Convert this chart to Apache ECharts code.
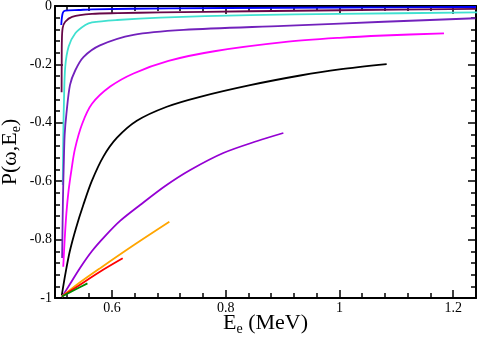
<!DOCTYPE html>
<html>
<head>
<meta charset="utf-8">
<script src="https://cdn.jsdelivr.net/npm/echarts@6/dist/echarts.min.js"></script>
<style>html,body{margin:0;padding:0;background:#fff}#c{width:484px;height:346px}</style>
</head>
<body>
<div id="c"></div>
<script>
// Tick values
var xMajor = [0.6, 0.8, 1.0, 1.2];
var xMinor = [0.52, 0.56, 0.64, 0.68, 0.72, 0.76, 0.84, 0.88, 0.92, 0.96, 1.04, 1.08, 1.12, 1.16];
var yMajor = [-1, -0.8, -0.6, -0.4, -0.2, 0];
var yMinor = [-0.96, -0.92, -0.88, -0.84, -0.76, -0.72, -0.68, -0.64, -0.56, -0.52, -0.48, -0.44,
              -0.36, -0.32, -0.28, -0.24, -0.16, -0.12, -0.08, -0.04];

// Curves [E_e, P]
var blue = [[0.511,-0.065],[0.5135,-0.025],[0.518,-0.016],[0.542,-0.0137],[0.565,-0.0114],[0.7,-0.008],[0.9,-0.006],[1.1,-0.0045],[1.24,-0.0035]];
var maroon = [[0.5116,-0.295],[0.5118,-0.2],[0.5121,-0.12],[0.5135,-0.075],[0.518,-0.054],[0.53,-0.037],[0.565,-0.027],[0.61,-0.0245],[0.685,-0.022],[0.843,-0.018],[1.0,-0.0145],[1.24,-0.010]];
var turquoise = [[0.5136,-0.613],[0.5145,-0.45],[0.5158,-0.322],[0.518,-0.208],[0.524,-0.139],[0.5357,-0.0935],[0.5533,-0.065],[0.565,-0.056],[0.609,-0.048],[0.685,-0.040],[0.843,-0.031],[1.0,-0.027],[1.242,-0.022]];
var indigo = [[0.5125,-0.863],[0.514,-0.66],[0.5153,-0.55],[0.517,-0.44],[0.52,-0.37],[0.5264,-0.27],[0.5357,-0.22],[0.55,-0.175],[0.579,-0.135],[0.638,-0.099],[0.726,-0.082],[0.902,-0.068],[1.078,-0.054],[1.239,-0.042]];
var magenta = [[0.5145,-0.893],[0.517,-0.80],[0.52,-0.71],[0.524,-0.63],[0.529,-0.56],[0.535,-0.49],[0.5475,-0.405],[0.565,-0.335],[0.597,-0.276],[0.638,-0.231],[0.6995,-0.188],[0.78,-0.155],[0.902,-0.124],[1.0,-0.109],[1.078,-0.101],[1.1837,-0.0936]];
var black = [[0.512,-0.99],[0.518,-0.92],[0.526,-0.84],[0.537,-0.76],[0.55,-0.68],[0.5646,-0.6],[0.585,-0.516],[0.6086,-0.452],[0.6438,-0.393],[0.6966,-0.345],[0.755,-0.311],[0.843,-0.271],[0.931,-0.238],[1.0,-0.217],[1.083,-0.199]];
var violet = [[0.5123,-0.9966],[0.5264,-0.952],[0.544,-0.897],[0.5651,-0.839],[0.588,-0.788],[0.6144,-0.736],[0.6496,-0.6815],[0.6937,-0.6164],[0.7377,-0.5616],[0.7958,-0.5034],[0.8556,-0.4623],[0.9014,-0.4349]];
var orange = [[0.512,-0.995],[0.54,-0.952],[0.58,-0.897],[0.64,-0.817],[0.701,-0.739]];
var red = [[0.512,-0.995],[0.538,-0.962],[0.579,-0.91],[0.619,-0.864]];
var green = [[0.512,-0.995],[0.535,-0.972],[0.557,-0.95]];

var curves = [
  {d: blue, c: '#0000ff'},
  {d: maroon, c: '#670748'},
  {d: turquoise, c: '#40e0d0'},
  {d: indigo, c: '#7221bc'},
  {d: magenta, c: '#ff00ff'},
  {d: black, c: '#000000'},
  {d: violet, c: '#9400d3'},
  {d: orange, c: '#ffa500'},
  {d: red, c: '#ff0000'},
  {d: green, c: '#008b00'}
];

var FONT = 'Liberation Serif';
var AX = {color: '#000', width: 2};
function fmt(v) { return String(Math.round(v * 10) / 10); }

function xAx(pos, ticks, len, showLine, labels) {
  var a = {
    type: 'value', min: 0.5, max: 1.24, position: pos,
    axisLine: {show: showLine, onZero: false, lineStyle: AX},
    axisTick: {show: true, inside: true, length: len, customValues: ticks, lineStyle: {color: '#000', width: 1.5}},
    axisLabel: {show: false},
    splitLine: {show: false}
  };
  if (labels) {
    a.axisLabel = {show: true, customValues: xMajor, margin: 3, color: '#000', fontFamily: FONT, fontSize: 14, formatter: fmt};
    a.name = '{a|E}{s|e}{a| (MeV)}';
    a.nameLocation = 'middle';
    a.nameGap = 12;
    a.nameMoveOverlap = false;
    a.nameTextStyle = {rich: {
      a: {fontFamily: FONT, fontSize: 22, color: '#000', lineHeight: 26},
      s: {fontFamily: FONT, fontSize: 14, color: '#000', padding: [13, 0, 0, 0], lineHeight: 14}
    }};
  }
  return a;
}
function yAx(pos, ticks, len, showLine, labels) {
  var a = {
    type: 'value', min: -1, max: 0, position: pos,
    axisLine: {show: showLine, onZero: false, lineStyle: AX},
    axisTick: {show: true, inside: true, length: len, customValues: ticks, lineStyle: {color: '#000', width: 1.5}},
    axisLabel: {show: false},
    splitLine: {show: false}
  };
  if (labels) {
    a.axisLabel = {show: true, customValues: yMajor, margin: 3, color: '#000', fontFamily: FONT, fontSize: 14, formatter: fmt};
    a.name = '{a|P(ω,E}{s|e}{a|)}';
    a.nameLocation = 'middle';
    a.nameGap = 32;
    a.nameMoveOverlap = false;
    a.nameTextStyle = {rich: {
      a: {fontFamily: FONT, fontSize: 22, color: '#000', lineHeight: 26},
      s: {fontFamily: FONT, fontSize: 14, color: '#000', padding: [13, 0, 0, 0], lineHeight: 14}
    }};
  }
  return a;
}

var chart = echarts.init(document.getElementById('c'), null, {renderer: 'canvas'});
chart.setOption({
  animation: false,
  backgroundColor: '#fff',
  grid: {left: 55, right: 8, top: 6, bottom: 48, containLabel: false, outerBoundsMode: 'none'},
  xAxis: [
    xAx('bottom', xMajor, 8, true, true),
    xAx('bottom', xMinor, 5, false, false),
    xAx('top', xMajor, 8, true, false),
    xAx('top', xMinor, 5, false, false)
  ],
  yAxis: [
    yAx('left', yMajor, 8, true, true),
    yAx('left', yMinor, 5, false, false),
    yAx('right', yMajor, 8, true, false),
    yAx('right', yMinor, 5, false, false)
  ],
  series: curves.map(function (s) {
    return {type: 'line', data: s.d, xAxisIndex: 0, yAxisIndex: 0, showSymbol: false, symbol: 'none',
      smooth: 0.3, lineStyle: {color: s.c, width: 1.8}, itemStyle: {color: s.c}, clip: true};
  })
});
</script>
</body>
</html>
